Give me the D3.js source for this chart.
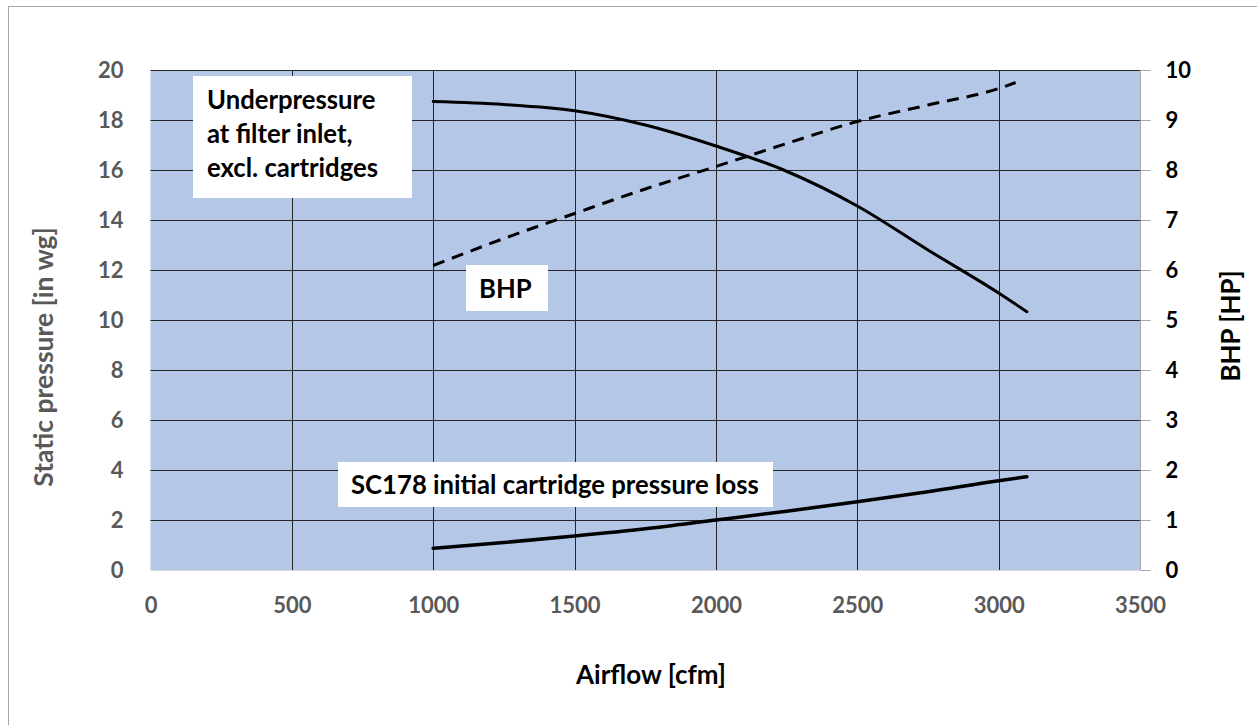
<!DOCTYPE html>
<html><head><meta charset="utf-8">
<script src="https://cdn.jsdelivr.net/npm/d3@7"></script>
<style>body{margin:0;background:#fff;} svg{display:block;font-family:Lato,"Open Sans",sans-serif;font-weight:bold;}</style>
</head><body><svg id="c" width="1257" height="725"></svg>
<script>
const airflow = [1000, 1250, 1500, 1750, 2000, 2250, 2500, 2750, 3000, 3100];
const underpressure = [18.74, 18.62, 18.37, 17.8, 16.96, 15.95, 14.56, 12.8, 11.08, 10.33];
const cartridgeLoss = [0.87, 1.1, 1.36, 1.65, 2.0, 2.35, 2.73, 3.13, 3.57, 3.73];
const bhpAirflow = [1000, 1250, 1500, 1750, 2000, 2250, 2500, 2750, 3000, 3060];
const bhp = [6.09, 6.63, 7.13, 7.62, 8.07, 8.53, 8.97, 9.3, 9.63, 9.75];
const xTicks = [0, 500, 1000, 1500, 2000, 2500, 3000, 3500];
const yLeftTicks = [0, 2, 4, 6, 8, 10, 12, 14, 16, 18, 20];
const yRightTicks = [0, 1, 2, 3, 4, 5, 6, 7, 8, 9, 10];

const svg = d3.select("#c");
const L = 150.5, R = 1140, T = 70, B = 570;
const x = d3.scaleLinear().domain([0, 3500]).range([L, R]);
const yL = d3.scaleLinear().domain([0, 20]).range([B, T]);
const yR = d3.scaleLinear().domain([0, 10]).range([B, T]);

// outer frame
svg.append("rect").attr("x", 8.5).attr("y", 6.5).attr("width", 1270).attr("height", 740)
  .attr("fill", "none").attr("stroke", "#a6a6a6").attr("stroke-width", 1);

// plot background
svg.append("rect").attr("x", L).attr("y", T).attr("width", R - L).attr("height", B - T).attr("fill", "#b4c7e7");

// grid
svg.append("g").selectAll("line").data(yLeftTicks.filter(d => d > 0)).join("line")
  .attr("x1", L).attr("x2", R).attr("y1", d => Math.round(yL(d)) + 0.5).attr("y2", d => Math.round(yL(d)) + 0.5)
  .attr("stroke", "#262626").attr("stroke-width", 1);
svg.append("g").selectAll("line").data(xTicks.filter(d => d > 0 && d < 3500)).join("line")
  .attr("y1", T).attr("y2", B).attr("x1", d => Math.round(x(d)) + 0.5).attr("x2", d => Math.round(x(d)) + 0.5)
  .attr("stroke", "#262626").attr("stroke-width", 1);

// axes lines
svg.append("line").attr("x1", L).attr("x2", R).attr("y1", B + 0.5).attr("y2", B + 0.5).attr("stroke", "#d9d9d9");
svg.append("line").attr("x1", R + 0.5).attr("x2", R + 0.5).attr("y1", T).attr("y2", B).attr("stroke", "#a6a6a6");

// right axis
const gR = svg.append("g").attr("transform", `translate(${R + 0.5},0)`)
  .call(d3.axisRight(yR).tickValues(yRightTicks).tickSize(10).tickPadding(15).tickFormat(d3.format("d")));
gR.select(".domain").remove();
gR.selectAll(".tick line").attr("stroke", "#a6a6a6");
gR.selectAll(".tick text").attr("fill", "#000").attr("font-size", 22).attr("font-family", "Lato").attr("font-weight", "bold");

// left axis
const gL = svg.append("g").attr("transform", `translate(${L},0)`)
  .call(d3.axisLeft(yL).tickValues(yLeftTicks).tickSize(0).tickPadding(27).tickFormat(d3.format("d")));
gL.select(".domain").remove();
gL.selectAll(".tick text").attr("fill", "#595959").attr("font-size", 22).attr("font-family", "Lato").attr("font-weight", "bold");

// bottom axis
const gB = svg.append("g").attr("transform", `translate(0,${B})`)
  .call(d3.axisBottom(x).tickValues(xTicks).tickSize(0).tickPadding(27).tickFormat(d3.format("d")));
gB.select(".domain").remove();
gB.selectAll(".tick text").attr("fill", "#595959").attr("font-size", 22).attr("font-family", "Lato").attr("font-weight", "bold");

// titles
svg.append("text").attr("transform", "translate(53,357) rotate(-90)").attr("text-anchor", "middle")
  .attr("fill", "#595959").attr("font-size", 26.5).text("Static pressure [in wg]");
svg.append("text").attr("transform", "translate(1240,326) rotate(-90)").attr("text-anchor", "middle")
  .attr("fill", "#000").attr("font-size", 26).text("BHP [HP]");
svg.append("text").attr("x", 651).attr("y", 684).attr("text-anchor", "middle")
  .attr("fill", "#000").attr("font-size", 26).text("Airflow [cfm]");

// curves
const lineL = (xs, ys) => d3.line().x((d, i) => x(xs[i])).y(d => yL(d)).curve(d3.curveMonotoneX)(ys);
const lineR = (xs, ys) => d3.line().x((d, i) => x(xs[i])).y(d => yR(d)).curve(d3.curveMonotoneX)(ys);

svg.append("path").attr("d", lineL(airflow, underpressure)).attr("fill", "none").attr("stroke", "#000").attr("stroke-width", 3).attr("stroke-linecap", "round");
svg.append("path").attr("d", lineL(airflow, cartridgeLoss)).attr("fill", "none").attr("stroke", "#000").attr("stroke-width", 3.5).attr("stroke-linecap", "round");
svg.append("path").attr("d", lineR(bhpAirflow, bhp)).attr("fill", "none").attr("stroke", "#000").attr("stroke-width", 3).attr("stroke-dasharray", "12,8");

// label boxes
function label(bx, by, bw, bh, lines, tx, ty, dy) {
  svg.append("rect").attr("x", bx).attr("y", by).attr("width", bw).attr("height", bh).attr("fill", "#fff");
  const t = svg.append("text").attr("x", tx).attr("y", ty).attr("fill", "#000").attr("font-size", 25.7);
  lines.forEach((s, i) => t.append("tspan").attr("x", tx).attr("y", ty + i * dy).text(s));
}
label(193, 76, 219, 122, ["Underpressure", "at filter inlet,", "excl. cartridges"], 207, 109, 34);
label(466, 265, 82, 46, ["BHP"], 479, 298, 0);
label(338, 462, 435, 45, ["SC178 initial cartridge pressure loss"], 351, 494, 0);
</script></body></html>
